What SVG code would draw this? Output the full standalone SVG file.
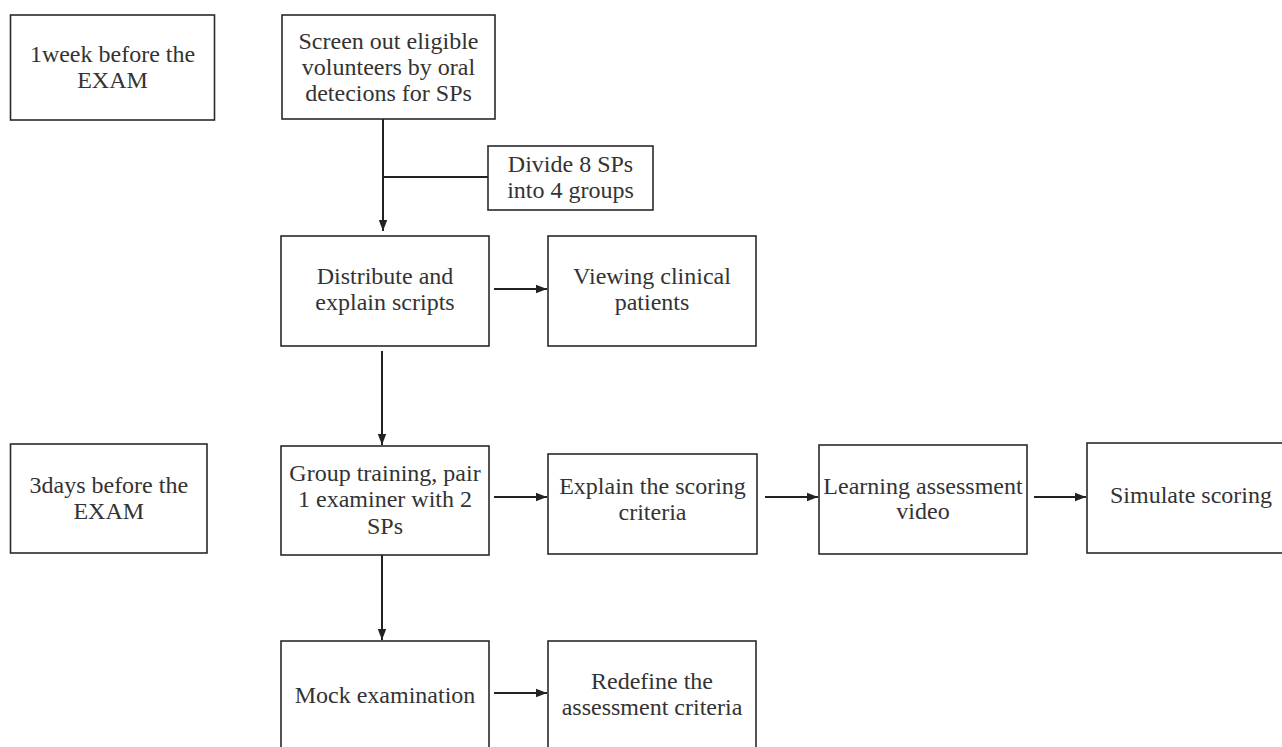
<svg xmlns="http://www.w3.org/2000/svg" width="1282" height="747" viewBox="0 0 1282 747">
<style>
.box{fill:#fff;stroke:#2a2a2a;stroke-width:1.6}
.t{font-size:24px;fill:#333;text-anchor:middle}
.c{fill:none;stroke:#222;stroke-width:2}
</style>
<defs>
<marker id="ah" markerUnits="userSpaceOnUse" markerWidth="12" markerHeight="10" refX="11" refY="5" orient="auto">
<path d="M0,0.8 L11,5 L0,9.2 z" fill="#222"/>
</marker>
</defs>
<rect width="1282" height="747" fill="#fff"/>
<g id="connectors">
<line class="c" x1="383" y1="119" x2="383" y2="231" marker-end="url(#ah)"/>
<line class="c" x1="383" y1="177" x2="488" y2="177"/>
<line class="c" x1="494" y1="289" x2="547" y2="289" marker-end="url(#ah)"/>
<line class="c" x1="382" y1="351" x2="382" y2="445" marker-end="url(#ah)"/>
<line class="c" x1="494" y1="497" x2="547" y2="497" marker-end="url(#ah)"/>
<line class="c" x1="765" y1="497" x2="818" y2="497" marker-end="url(#ah)"/>
<line class="c" x1="1034" y1="497" x2="1086" y2="497" marker-end="url(#ah)"/>
<line class="c" x1="382" y1="555" x2="382" y2="640" marker-end="url(#ah)"/>
<line class="c" x1="494" y1="693" x2="547" y2="693" marker-end="url(#ah)"/>
</g>
<g font-family="'Liberation Serif', 'Times New Roman', serif">
<g id="n-1week">
<rect class="box" x="10.5" y="15" width="204" height="105"/>
<text class="t" x="112.5" y="62">1week before the</text>
<text class="t" x="112.5" y="88">EXAM</text>
</g>
<g id="n-screen">
<rect class="box" x="282" y="15" width="213" height="104"/>
<text class="t" x="388.5" y="49">Screen out eligible</text>
<text class="t" x="388.5" y="75">volunteers by oral</text>
<text class="t" x="388.5" y="101">detecions for SPs</text>
</g>
<g id="n-divide">
<rect class="box" x="488" y="146" width="165" height="64"/>
<text class="t" x="570.5" y="172">Divide 8 SPs</text>
<text class="t" x="570.5" y="198">into 4 groups</text>
</g>
<g id="n-distribute">
<rect class="box" x="281" y="236" width="208" height="110"/>
<text class="t" x="385" y="284">Distribute and</text>
<text class="t" x="385" y="310">explain scripts</text>
</g>
<g id="n-viewing">
<rect class="box" x="548" y="236" width="208" height="110"/>
<text class="t" x="652" y="284">Viewing clinical</text>
<text class="t" x="652" y="310">patients</text>
</g>
<g id="n-3days">
<rect class="box" x="10.5" y="444" width="196.5" height="109"/>
<text class="t" x="108.8" y="493">3days before the</text>
<text class="t" x="108.8" y="519">EXAM</text>
</g>
<g id="n-group">
<rect class="box" x="281" y="446" width="208" height="109"/>
<text class="t" x="385" y="481">Group training, pair</text>
<text class="t" x="385" y="507">1 examiner with 2</text>
<text class="t" x="385" y="534">SPs</text>
</g>
<g id="n-explain">
<rect class="box" x="548" y="454" width="209" height="100"/>
<text class="t" x="652.5" y="494">Explain the scoring</text>
<text class="t" x="652.5" y="520">criteria</text>
</g>
<g id="n-learning">
<rect class="box" x="819" y="445" width="208" height="109"/>
<text class="t" x="923" y="494">Learning assessment</text>
<text class="t" x="923" y="519">video</text>
</g>
<g id="n-simulate">
<rect class="box" x="1087" y="443" width="208" height="110"/>
<text class="t" x="1191" y="503">Simulate scoring</text>
</g>
<g id="n-mock">
<rect class="box" x="281" y="641" width="208" height="120"/>
<text class="t" x="385" y="703">Mock examination</text>
</g>
<g id="n-redefine">
<rect class="box" x="548" y="641" width="208" height="120"/>
<text class="t" x="652" y="689">Redefine the</text>
<text class="t" x="652" y="715">assessment criteria</text>
</g>
</g>
</svg>
